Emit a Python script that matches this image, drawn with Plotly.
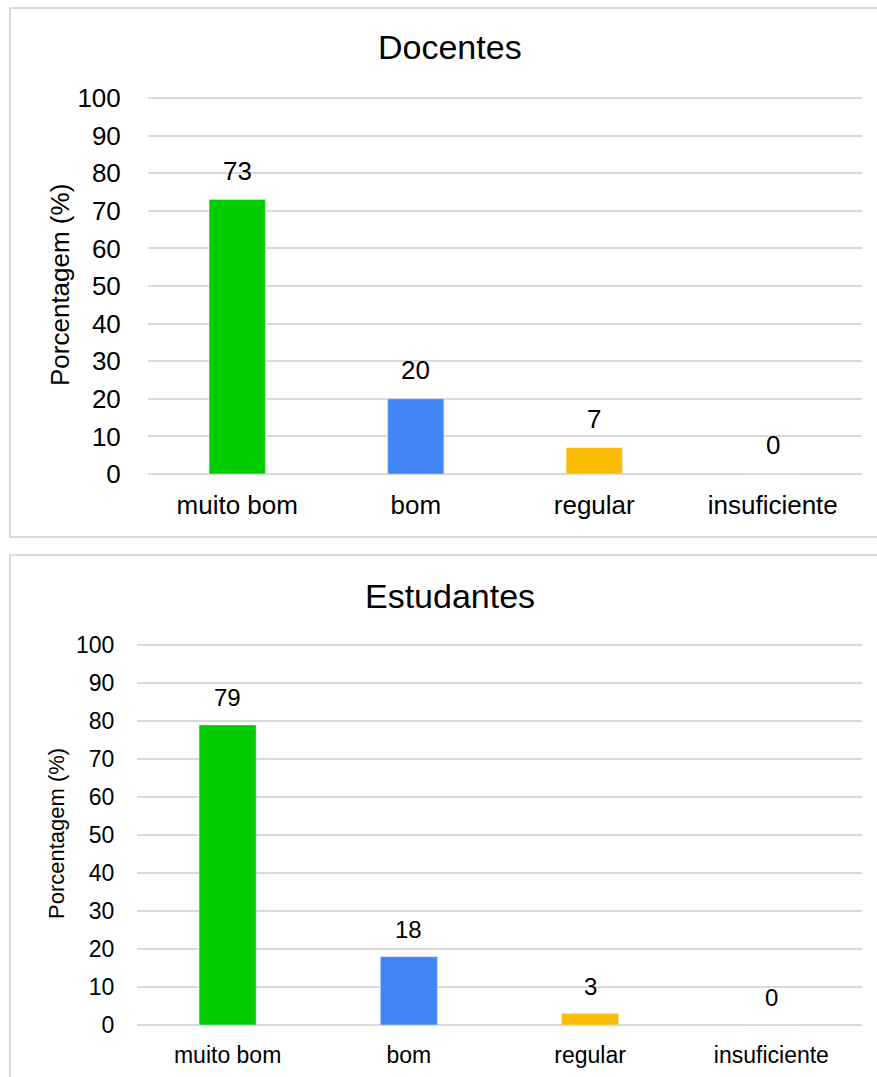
import plotly.graph_objects as go

categories = ["muito bom", "bom", "regular", "insuficiente"]
docentes = [73, 20, 7, 0]
estudantes = [79, 18, 3, 0]
bar_colors = ["#00cc00", "#4285f4", "#fbbc04", "#fbbc04"]
y_ticks = list(range(0, 101, 10))

W, H = 877, 1077
FONT = "Liberation Sans, Arial, sans-serif"
GRID = "#d9d9d9"

def px(x):
    return x / W

def py(y):
    return 1 - y / H

fig = go.Figure()

fig.add_trace(go.Bar(x=categories, y=docentes, marker_color=bar_colors,
                     xaxis="x", yaxis="y", showlegend=False,
                     hoverinfo="x+y"))
fig.add_trace(go.Bar(x=categories, y=estudantes, marker_color=bar_colors,
                     xaxis="x2", yaxis="y2", showlegend=False,
                     hoverinfo="x+y"))

annotations = []
for c, v in zip(categories, docentes):
    annotations.append(dict(x=c, y=v, xref="x", yref="y", text=str(v),
                            showarrow=False, yanchor="bottom", yshift=12,
                            font=dict(size=26, color="black", family=FONT)))
for c, v in zip(categories, estudantes):
    annotations.append(dict(x=c, y=v, xref="x2", yref="y2", text=str(v),
                            showarrow=False, yanchor="bottom", yshift=12,
                            font=dict(size=24, color="black", family=FONT)))

annotations += [
    dict(x=px(450), y=py(47), xref="paper", yref="paper", text="Docentes",
         showarrow=False, xanchor="center", yanchor="middle",
         font=dict(size=34, color="black", family=FONT)),
    dict(x=px(450), y=py(596), xref="paper", yref="paper", text="Estudantes",
         showarrow=False, xanchor="center", yanchor="middle",
         font=dict(size=34, color="black", family=FONT)),
    dict(x=px(60), y=py(285), xref="paper", yref="paper", text="Porcentagem (%)",
         showarrow=False, xanchor="center", yanchor="middle", textangle=-90,
         font=dict(size=26, color="black", family=FONT)),
    dict(x=px(56), y=py(834), xref="paper", yref="paper", text="Porcentagem (%)",
         showarrow=False, xanchor="center", yanchor="middle", textangle=-90,
         font=dict(size=22, color="black", family=FONT)),
]

shapes = [
    dict(type="rect", xref="paper", yref="paper", x0=px(10), x1=1.02,
         y0=py(537), y1=py(8), line=dict(color=GRID, width=2)),
    dict(type="rect", xref="paper", yref="paper", x0=px(10), x1=1.02,
         y0=-0.02, y1=py(555), line=dict(color=GRID, width=2)),
]

fig.update_layout(
    width=W, height=H, autosize=False,
    margin=dict(l=0, r=0, t=0, b=0, pad=0),
    paper_bgcolor="white", plot_bgcolor="white",
    bargap=0.685,
    font=dict(family=FONT, color="black"),
    annotations=annotations, shapes=shapes,
    xaxis=dict(domain=[px(148), px(862)], anchor="y", automargin=False,
               showgrid=False, showline=False, zeroline=False,
               ticks="outside", ticklen=8, tickcolor="rgba(0,0,0,0)",
               tickfont=dict(size=26, color="black", family=FONT)),
    yaxis=dict(domain=[py(474), py(97)], anchor="x", range=[0, 100.3],
               automargin=False,
               tickvals=y_ticks, showgrid=True, gridcolor=GRID, gridwidth=2,
               zeroline=True, zerolinecolor=GRID, zerolinewidth=2,
               showline=False, ticks="outside", ticklen=21,
               tickcolor="rgba(0,0,0,0)",
               tickfont=dict(size=26, color="black", family=FONT)),
    xaxis2=dict(domain=[px(137), px(862)], anchor="y2", automargin=False,
                showgrid=False, showline=False, zeroline=False,
                ticks="outside", ticklen=9, tickcolor="rgba(0,0,0,0)",
                tickfont=dict(size=23, color="black", family=FONT)),
    yaxis2=dict(domain=[py(1025), py(644)], anchor="x2", range=[0, 100.3],
                automargin=False,
                tickvals=y_ticks, showgrid=True, gridcolor=GRID, gridwidth=2,
                zeroline=True, zerolinecolor=GRID, zerolinewidth=2,
                showline=False, ticks="outside", ticklen=17,
                tickcolor="rgba(0,0,0,0)",
                tickfont=dict(size=23, color="black", family=FONT)),
)

fig.write_html("out.html", config={"displayModeBar": False},
               post_script="document.body.style.margin='0';document.body.style.overflow='hidden';")
